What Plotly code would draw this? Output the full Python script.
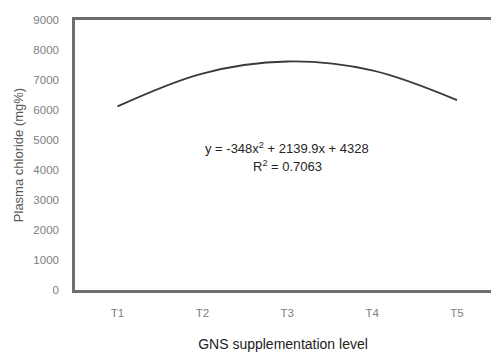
import plotly.graph_objects as go

# Treatment levels and fitted plasma chloride values (mg%)
levels = ["T1", "T2", "T3", "T4", "T5"]
chloride_fit = [6120, 7216, 7616, 7320, 6328]

y_ticks = [0, 1000, 2000, 3000, 4000, 5000, 6000, 7000, 8000, 9000]
equation_text = "y = -348x<sup>2</sup> + 2139.9x + 4328"
r2_text = "R<sup>2</sup> = 0.7063"

fig = go.Figure()
fig.add_trace(go.Scatter(
    x=levels,
    y=chloride_fit,
    mode="lines",
    line=dict(color="#3a3a3a", width=1.8, shape="spline", smoothing=1.0),
    hoverinfo="skip",
    showlegend=False,
))

axis_line = "#6e6e6e"
fig.update_xaxes(
    type="category",
    range=[-0.5, 4.4],
    showline=True, linecolor=axis_line, linewidth=2.5, mirror=True,
    showgrid=False, zeroline=False, ticks="",
    tickfont=dict(family="Liberation Sans", size=11.5, color="#808080"),
    ticklabelstandoff=10,
    title=dict(text="GNS supplementation level", standoff=24,
               font=dict(family="Liberation Sans", size=14, color="#222222")),
)
fig.update_yaxes(
    range=[0, 9000],
    tickvals=y_ticks,
    showline=True, linecolor=axis_line, linewidth=2.5, mirror=False,
    showgrid=False, zeroline=False, ticks="",
    tickfont=dict(family="Liberation Sans", size=11.5, color="#808080"),
    ticklabelstandoff=11,
    title=dict(text="Plasma chloride (mg%)", standoff=7,
               font=dict(family="Liberation Sans", size=13, color="#595959")),
)

fig.add_annotation(x=2, y=4730, xref="x", yref="y", text=equation_text,
                   showarrow=False, yanchor="middle",
                   font=dict(family="Liberation Sans", size=13, color="#262626"))
fig.add_annotation(x=2, y=4130, xref="x", yref="y", text=r2_text,
                   showarrow=False, yanchor="middle",
                   font=dict(family="Liberation Sans", size=13, color="#262626"))

fig.update_layout(
    width=491, height=352,
    margin=dict(l=75, r=0, t=20, b=62),
    paper_bgcolor="white", plot_bgcolor="white",
)

fig.write_html("out.html")
